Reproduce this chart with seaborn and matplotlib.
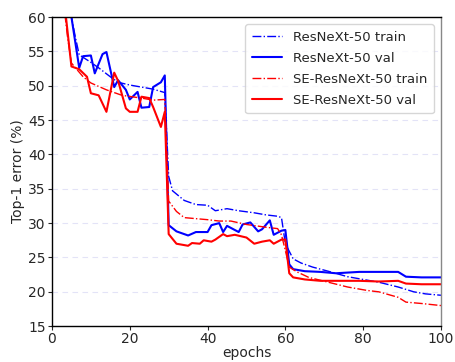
import numpy as np
import pandas as pd
import matplotlib
matplotlib.use('Agg')
import matplotlib.pyplot as plt
import seaborn as sns

# datos
resnext_train_ep = [1, 3, 5, 6, 7, 10, 12, 15, 17, 20, 23, 26, 29, 30, 31, 34, 37, 40, 42, 45, 48,
                    52, 55, 58, 59, 60, 62, 64, 67, 71, 76, 79, 84, 89, 93, 96, 100]
resnext_train = [85, 68, 60, 57.1, 54.5, 53.4, 52.6, 51.3, 50.5, 50.1, 49.8, 49.5, 49.0, 36.8, 34.7,
                 33.3, 32.7, 32.6, 31.8, 32.1, 31.8, 31.5, 31.2, 31.0, 30.8, 27.0, 24.8, 24.2, 23.6,
                 23.0, 22.2, 21.9, 21.4, 20.7, 20.0, 19.7, 19.5]

resnext_val_ep = [1, 3, 5, 7, 8, 10, 11, 13, 14, 16, 17, 19, 20, 22, 23, 25, 26, 28, 29, 30, 32, 35,
                  37, 40, 41, 43, 44, 45, 48, 49, 51, 53, 54, 56, 57, 59, 60, 61, 62, 65, 69, 73,
                  79, 84, 89, 91, 95, 100]
resnext_val = [80, 68, 60, 52.6, 54.3, 54.4, 51.8, 54.6, 54.9, 49.8, 50.8, 49.4, 48.0, 49.1, 46.8,
               46.9, 49.8, 50.5, 51.5, 29.7, 28.8, 28.2, 28.7, 28.7, 29.7, 30.0, 28.7, 29.6, 28.7,
               29.8, 30.1, 28.8, 29.1, 30.4, 28.3, 28.9, 29.0, 24.0, 23.3, 23.0, 22.9, 22.7, 22.9,
               22.9, 22.9, 22.2, 22.1, 22.1]

se_train_ep = [1, 3, 4, 5, 8, 10, 14, 18, 23, 26, 29, 30, 32, 34, 40, 43, 46, 50, 55, 58, 59, 60,
               61, 63, 66, 71, 76, 81, 84, 89, 91, 95, 100]
se_train = [82, 62, 57.1, 53.3, 51.3, 50.4, 49.4, 48.6, 48.2, 47.9, 48.0, 33.2, 31.7, 30.8, 30.5,
            30.3, 30.3, 29.8, 29.4, 29.2, 28.3, 26.0, 23.6, 22.9, 22.1, 21.4, 20.7, 20.2, 20.0,
            19.2, 18.5, 18.3, 18.0]

se_val_ep = [1, 3, 5, 7, 9, 10, 12, 14, 16, 17, 19, 20, 22, 23, 25, 26, 28, 29, 30, 32, 35, 36, 38,
             39, 41, 42, 44, 45, 47, 50, 52, 54, 56, 57, 59, 60, 61, 62, 65, 69, 79, 84, 89, 91,
             95, 100]
se_val = [78, 63, 52.8, 52.4, 51.3, 48.9, 48.6, 46.2, 51.9, 50.7, 46.7, 46.2, 46.2, 48.4, 48.2,
          46.9, 44.0, 46.2, 28.4, 27.0, 26.7, 27.1, 27.0, 27.5, 27.3, 27.6, 28.4, 28.1, 28.3,
          27.9, 27.0, 27.3, 27.5, 27.0, 27.6, 27.6, 22.7, 22.1, 21.8, 21.6, 21.6, 21.5, 21.6,
          21.2, 21.1, 21.1]

series = [
    ('ResNeXt-50 train', resnext_train_ep, resnext_train, '#0000ff', '-.', 1.0),
    ('ResNeXt-50 val', resnext_val_ep, resnext_val, '#0000ff', '-', 1.5),
    ('SE-ResNeXt-50 train', se_train_ep, se_train, '#ff0000', '-.', 1.0),
    ('SE-ResNeXt-50 val', se_val_ep, se_val, '#ff0000', '-', 1.5),
]

sns.set_style('white')
plt.rcParams['font.family'] = ['DejaVu Sans']

fig = plt.figure(figsize=(4.56, 3.62), dpi=100)
ax = fig.add_axes([0.114, 0.099, 0.853, 0.854])

for name, ep, val, col, ls, lw in series:
    df = pd.DataFrame({'epoch': ep, 'err': val})
    sns.lineplot(data=df, x='epoch', y='err', color=col, linestyle=ls,
                 linewidth=lw, label=name, ax=ax)

ax.set_xlim(0, 100)
ax.set_ylim(15, 60)
ax.set_xticks(range(0, 101, 20))
ax.set_yticks(range(15, 61, 5))
ax.yaxis.grid(True, linestyle=(0, (5, 4)), color='#e3e3f7', linewidth=0.8)
ax.xaxis.grid(False)
ax.set_axisbelow(True)
ax.tick_params(axis='both', labelsize=10, length=3, width=0.8, direction='out',
               bottom=True, left=True, pad=1.5)
for s in ax.spines.values():
    s.set_color('black')
    s.set_linewidth(1.0)
ax.spines['right'].set_color('#888888')
ax.set_xlabel('epochs', fontsize=10, labelpad=0)
ax.set_ylabel('Top-1 error (%)', fontsize=10, labelpad=2)

leg = ax.legend(loc='upper right', fontsize=9.5, frameon=True, fancybox=True,
                borderaxespad=0.55, handlelength=2.3, labelspacing=0.6,
                borderpad=0.5)
leg.get_frame().set_edgecolor('#cccccc')

fig.savefig('out.png', dpi=100)
